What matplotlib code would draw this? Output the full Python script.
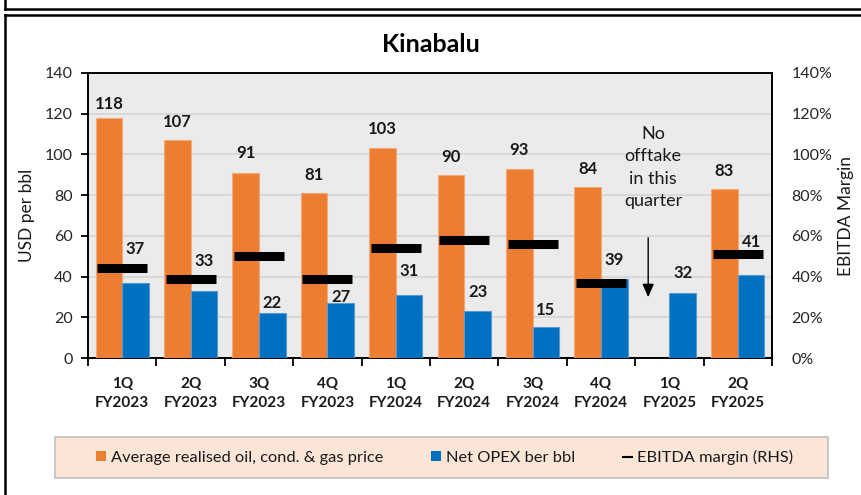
import matplotlib
matplotlib.use("Agg")
import matplotlib.pyplot as plt
import numpy as np
from matplotlib.patches import Patch, Rectangle
from matplotlib.lines import Line2D
from matplotlib.ticker import FuncFormatter

plt.rcParams['font.family'] = ['Lato', 'DejaVu Sans']

quarters = ["1Q", "2Q", "3Q", "4Q", "1Q", "2Q", "3Q", "4Q", "1Q", "2Q"]
years = ["FY2023", "FY2023", "FY2023", "FY2023", "FY2024", "FY2024", "FY2024", "FY2024", "FY2025", "FY2025"]
price = [118, 107, 91, 81, 103, 90, 93, 84, np.nan, 83]
opex = [37, 33, 22, 27, 31, 23, 15, 39, 32, 41]
ebitda = [0.44, 0.39, 0.50, 0.39, 0.54, 0.58, 0.56, 0.37, np.nan, 0.51]

# label y-positions (data units) as placed in the source chart
price_lbl_y = [124.8, 116.1, 100.7, 89.9, 112.5, 98.9, 102.2, 92.7, np.nan, 92.0]
opex_lbl_y = [53.5, 47.6, 27.0, 30.1, 42.9, 32.6, 23.6, 48.1, 41.7, 57.1]

orange = "#ED7D31"
blue = "#0070C0"

fig = plt.figure(figsize=(8.61, 4.95), dpi=100)
W, H = 861, 495

def fx(x): return x / W
def fy(y): return 1 - y / H

# outer frame lines
fig.add_artist(Line2D([fx(5), 1], [fy(9), fy(9)], color="black", lw=1.8))
fig.add_artist(Line2D([fx(5), fx(5)], [1, fy(9)], color="black", lw=1.8))
fig.add_artist(Line2D([fx(5), 1], [fy(14.5), fy(14.5)], color="black", lw=1.8))
fig.add_artist(Line2D([fx(5), fx(5)], [fy(14.5), 0], color="black", lw=1.8))

ax = fig.add_axes([fx(88), fy(358), (772 - 88) / W, (358 - 73) / H])
ax.set_facecolor("#EBEBEB")
x = np.arange(len(quarters))
bw = 0.39
ax.bar(x - bw / 2, price, width=bw, color=orange, edgecolor="#F4A97A", linewidth=0.8, zorder=3)
ax.bar(x + bw / 2, opex, width=bw, color=blue, edgecolor="#5B9BD5", linewidth=0.8, zorder=3)

for i in range(len(x)):
    if not np.isnan(price[i]):
        ax.text(x[i] - bw / 2, price_lbl_y[i], f"{price[i]:.0f}", ha="center", va="center",
                fontsize=12, fontweight="bold", color="#1a1a1a", zorder=5)
    ax.text(x[i] + bw / 2, opex_lbl_y[i], f"{opex[i]:.0f}", ha="center", va="center",
            fontsize=12, fontweight="bold", color="#1a1a1a", zorder=5)

ax.set_xlim(-0.5, len(x) - 0.5)
ax.set_ylim(0, 140)
ax.set_yticks(np.arange(0, 141, 20))
ax.yaxis.grid(True, color="#D6D6D6", linewidth=1.3, zorder=0)
ax.set_axisbelow(True)
ax.set_xticks(np.arange(-0.5, len(x), 1.0))
ax.set_xticklabels([])
ax.set_xticks(x, minor=True)
ax.set_xticklabels([f"{q}\n{y}" for q, y in zip(quarters, years)], minor=True,
                   fontsize=11, fontweight="bold", linespacing=1.4)
ax.tick_params(axis="x", which="minor", length=0, pad=14, colors="#1a1a1a")
ax.tick_params(axis="x", which="major", length=6, width=1.3, direction="out")
ax.tick_params(axis="y", length=5, width=1.3, labelsize=11.5, labelcolor="#262626", pad=6)
for s in ax.spines.values():
    s.set_linewidth(1.4)
    s.set_color("black")
ax.set_ylabel("USD per bbl", fontsize=12.5, color="#1a1a1a", labelpad=7)

ax2 = ax.twinx()
ax2.set_ylim(0, 1.4)
ax2.set_yticks(np.arange(0, 1.41, 0.2))
ax2.yaxis.set_major_formatter(FuncFormatter(lambda v, p: f"{v*100:.0f}%"))
ax2.tick_params(axis="y", length=0, labelsize=11.5, labelcolor="#262626", pad=14)
for s in ax2.spines.values():
    s.set_visible(False)
ax2.plot(x, ebitda, linestyle="none", marker="_", markersize=36, markeredgewidth=6.5,
         color="black", zorder=6)
ax2.set_ylabel("EBITDA Margin", fontsize=12.5, color="#1a1a1a", labelpad=4)

# annotation for quarter with no offtake
ax.text(7.76, 114, "No\nofftake\nin this\nquarter", ha="center", va="top", fontsize=13,
        color="#1a1a1a", linespacing=1.5, zorder=6)
ax.annotate("", xy=(7.69, 28.5), xytext=(7.69, 60.4),
            arrowprops=dict(arrowstyle="-|>,head_length=0.8,head_width=0.35", color="black", lw=1.0),
            zorder=6)

fig.text(0.5, fy(45), "Kinabalu", ha="center", va="center", fontsize=18, fontweight="bold")

# legend box
fig.add_artist(Rectangle((fx(55), fy(478)), (828 - 55) / W, (478 - 437) / H,
                         facecolor="#FBE5D6", edgecolor="#BFBFBF", linewidth=1.2,
                         transform=fig.transFigure))
handles = [Patch(facecolor=orange, edgecolor="none"),
           Patch(facecolor=blue, edgecolor="none"),
           Line2D([], [], color="black", lw=1.5)]
labels = ["Average realised oil, cond. & gas price", "Net OPEX ber bbl", "EBITDA margin (RHS)"]
leg = fig.legend(handles, labels, loc="center", bbox_to_anchor=(fx(445), fy(457.5)), ncol=3,
                 frameon=False, fontsize=11.8, handlelength=0.6, handleheight=0.6,
                 handletextpad=0.3, columnspacing=2.9)
for t in leg.get_texts():
    t.set_color("#1a1a1a")

fig.savefig("out.png", dpi=100)
